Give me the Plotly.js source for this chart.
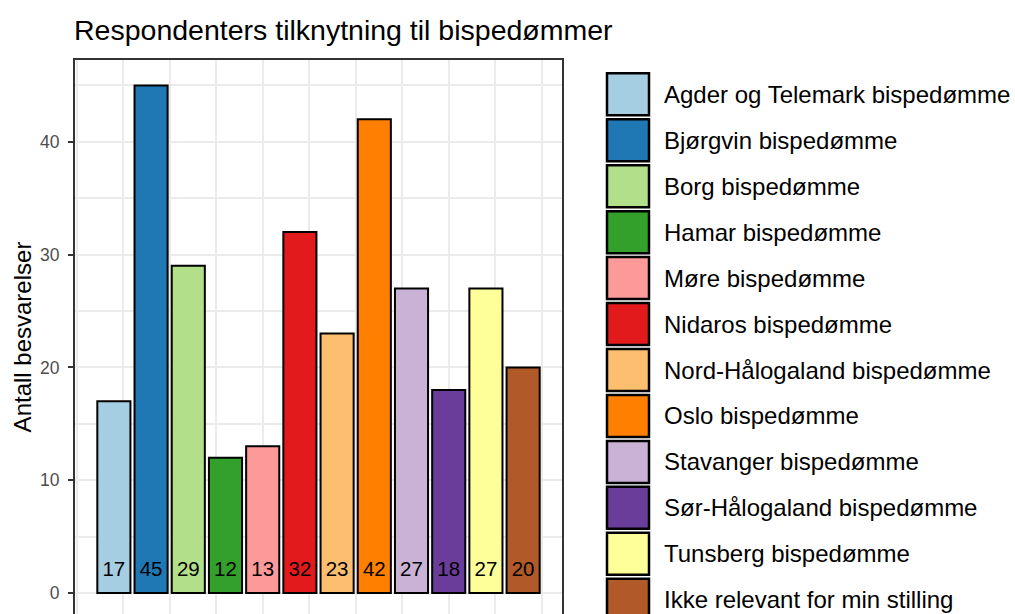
<!DOCTYPE html>
<html>
<head>
<meta charset="utf-8">
<script src="https://cdn.plot.ly/plotly-3.0.1.min.js"></script>
<style>
  html, body { margin: 0; padding: 0; background: #fff; overflow: hidden; }
  #plot { width: 1015px; height: 614px; }
</style>
</head>
<body>
<div id="plot"></div>
<script>
// --- data ---
const categories = [
  'Agder og Telemark bispedømme',
  'Bjørgvin bispedømme',
  'Borg bispedømme',
  'Hamar bispedømme',
  'Møre bispedømme',
  'Nidaros bispedømme',
  'Nord-Hålogaland bispedømme',
  'Oslo bispedømme',
  'Stavanger bispedømme',
  'Sør-Hålogaland bispedømme',
  'Tunsberg bispedømme',
  'Ikke relevant for min stilling'
];
const counts = [17, 45, 29, 12, 13, 32, 23, 42, 27, 18, 27, 20];
const colors = [
  '#A6CEE3', '#1F78B4', '#B2DF8A', '#33A02C', '#FB9A99', '#E31A1C',
  '#FDBF6F', '#FF7F00', '#CAB2D6', '#6A3D9A', '#FFFF99', '#B15928'
];
const yTicks = [0, 10, 20, 30, 40];

const FONT = '"Liberation Sans", Arial, Helvetica, sans-serif';

// plot area in pixels
const W = 1015, H = 614;
const L = 75, R = 562, T = 60, B = 614;
const px2x = p => (p - L) / (R - L);
const px2y = p => (B - p) / (B - T);

const xpos = categories.map((_, i) => i + 1);

const bars = {
  type: 'bar',
  x: xpos,
  y: counts,
  width: 0.89,
  marker: { color: colors, line: { color: '#000', width: 2 } },
  hoverinfo: 'skip',
  showlegend: false
};

const labels = {
  type: 'scatter',
  mode: 'text',
  x: xpos,
  y: counts.map(() => 2),
  text: counts.map(String),
  textposition: 'middle center',
  textfont: { family: FONT, size: 20.5, color: '#000' },
  hoverinfo: 'skip',
  showlegend: false
};

// legend drawn as keys + text, like ggplot's large keys
const shapes = [];
const annotations = [];
const keyTop = 94.3, keyStep = 45.95;
categories.forEach((c, i) => {
  const cy = keyTop + i * keyStep;
  shapes.push({
    type: 'rect', xref: 'paper', yref: 'paper',
    x0: px2x(607), x1: px2x(649),
    y0: px2y(cy + 21), y1: px2y(cy - 21),
    fillcolor: colors[i], line: { color: '#000', width: 2.5 }
  });
  annotations.push({
    xref: 'paper', yref: 'paper',
    x: px2x(662), y: px2y(cy),
    xanchor: 'left', yanchor: 'middle',
    text: c, showarrow: false,
    font: { family: FONT, size: 24, color: '#000' }
  });
});

const layout = {
  width: W, height: H,
  paper_bgcolor: '#fff',
  plot_bgcolor: '#fff',
  margin: { l: L, r: W - R, t: T, b: H - B, pad: 0 },
  font: { family: FONT },
  title: {
    text: 'Respondenters tilknytning til bispedømmer',
    x: 74 / W, xref: 'container', xanchor: 'left',
    y: 1 - 30 / H, yref: 'container', yanchor: 'middle',
    font: { family: FONT, size: 28.5, color: '#000' }
  },
  xaxis: {
    range: [-0.045, 13.045],
    side: 'top',
    showline: true, linecolor: '#333', linewidth: 2,
    showticklabels: false, ticks: '',
    showgrid: true, gridcolor: '#EBEBEB', gridwidth: 2,
    tick0: 1.25, dtick: 1.25,
    zeroline: false, fixedrange: true
  },
  yaxis: {
    range: [-1.86, 47.25],
    showline: true, mirror: true, linecolor: '#333', linewidth: 2,
    tickvals: yTicks, ticktext: yTicks.map(String),
    ticks: 'outside', ticklen: 5, tickwidth: 2, tickcolor: '#333',
    ticklabelstandoff: 5,
    tickfont: { family: FONT, size: 17.5, color: '#4D4D4D' },
    showgrid: true, gridcolor: '#EBEBEB', gridwidth: 2,
    minor: { dtick: 5, tick0: 0, showgrid: true, gridcolor: '#EBEBEB', gridwidth: 2, ticks: '' },
    zeroline: false, fixedrange: true,
    title: {
      text: 'Antall besvarelser',
      standoff: 2,
      font: { family: FONT, size: 24, color: '#000' }
    }
  },
  shapes: shapes,
  annotations: annotations
};

Plotly.newPlot('plot', [bars, labels], layout, { staticPlot: true, displayModeBar: false });
</script>
</body>
</html>
